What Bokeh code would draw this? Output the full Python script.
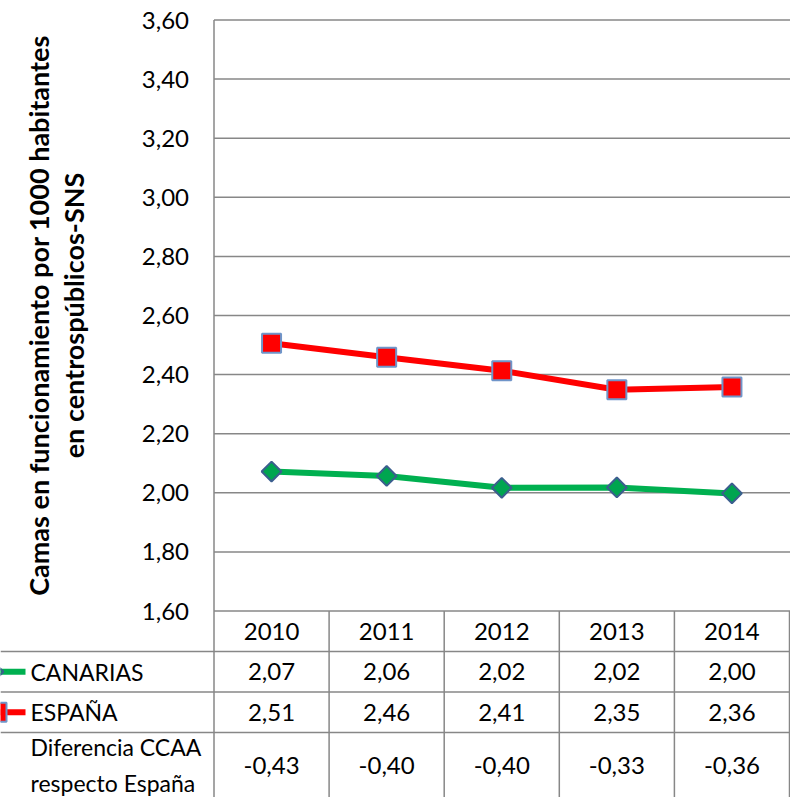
import math
from bokeh.plotting import figure
from bokeh.models import Range1d
from bokeh.core.properties import value
from bokeh.embed import file_html
from bokeh.resources import INLINE

years = ["2010", "2011", "2012", "2013", "2014"]
canarias = [2.072, 2.057, 2.017, 2.018, 1.998]
espana = [2.506, 2.459, 2.413, 2.349, 2.358]
y_ticks = [1.6, 1.8, 2.0, 2.2, 2.4, 2.6, 2.8, 3.0, 3.2, 3.4, 3.6]
series_names = ["CANARIAS", "ESPAÑA", "Diferencia CCAA\nrespecto España"]
y_title = ["Camas en funcionamiento por 1000 habitantes", "en centrospúblicos-SNS"]

FONT = "Lato"
GRID = "#878787"
RED, GREEN = "#ff0000", "#00b050"
W, H = 790, 797          # canvas size
LEFT = 213.5             # plot-area left edge (px)
PX = (W - 1 - LEFT) / 5  # px per category
PY = 295.5               # px per y unit
TOP = 19.5               # px of the top tick
ROW = 40.5               # table row height (px)
xs = list(range(len(years)))
ymin, ymax = min(y_ticks), max(y_ticks)

x_start = -0.5 - LEFT / PX
x_end = x_start + W / PX
y_end = ymax + TOP / PY
y_start = y_end - H / PY
sx = lambda px: x_start + px / PX
rowy = lambda k: ymin - k * ROW / PY

p = figure(width=W, height=H, x_range=Range1d(x_start, x_end),
           y_range=Range1d(y_start, y_end), output_backend="svg",
           toolbar_location=None, x_axis_location=None, y_axis_location=None,
           min_border=0, outline_line_color=None)
p.grid.visible = False

n = len(y_ticks)
p.segment(x0=[-0.5] * n, y0=y_ticks, x1=[x_end] * n, y1=y_ticks,
          line_color=GRID, line_width=1.5)
p.segment(x0=[-0.5], y0=[ymax], x1=[-0.5], y1=[y_start], line_color=GRID, line_width=1.5)
vx = [i + 0.5 for i in xs]
p.segment(x0=vx, y0=[ymin] * len(vx), x1=vx, y1=[y_start] * len(vx),
          line_color=GRID, line_width=1.5)
ry = [rowy(1), rowy(2), rowy(3)]
p.segment(x0=[x_start] * 3, y0=ry, x1=[x_end] * 3, y1=ry,
          line_color=GRID, line_width=1.5)

# tick labels
p.text(x=[-0.5 - 25 / PX] * n, y=y_ticks,
       text=[f"{t:.2f}".replace(".", ",") for t in y_ticks],
       text_align="right", text_baseline="middle", text_font=value(FONT),
       text_font_size="24px", text_color="black")
# axis title
p.text(x=[sx(38), sx(73)], y=[(ymin + ymax) / 2] * 2, text=y_title,
       angle=math.pi / 2, text_align="center", text_baseline="middle",
       text_font=value(FONT), text_font_size="27px", text_font_style="bold",
       text_color="black")

# series
p.line(xs, espana, line_color=RED, line_width=6)
p.scatter(xs, espana, marker="square", size=19, fill_color=RED,
          line_color="#6f95c9", line_width=2)
p.line(xs, canarias, line_color=GREEN, line_width=6)
p.scatter(xs, canarias, marker="square", angle=math.pi / 4, size=14,
          fill_color="#00a550", line_color="#3b5e8e", line_width=2)

# table
fmt = lambda v: f"{v:.2f}".replace(".", ",")
diff = [c - e for c, e in zip(canarias, espana)]
rows_text = [years, [fmt(v) for v in canarias], [fmt(v) for v in espana],
             [fmt(v) for v in diff]]
row_centers = [rowy(0.5), rowy(1.5), rowy(2.5), (rowy(3) + y_start) / 2]
for yc, txt in zip(row_centers, rows_text):
    p.text(x=xs, y=[yc] * len(xs), text=txt, text_align="center",
           text_baseline="middle", text_font=value(FONT),
           text_font_size="24px", text_color="black")

p.text(x=[sx(30)] * 3, y=row_centers[1:], text=series_names, text_align="left",
       text_baseline="middle", text_font=value(FONT), text_font_size="23px",
       text_color="black", text_line_height=1.3)

# legend keys (line + partially visible marker at the left edge)
p.segment(x0=[x_start] * 2, y0=row_centers[1:3], x1=[sx(25)] * 2, y1=row_centers[1:3],
          line_color=[GREEN, RED], line_width=6)
p.scatter([sx(-7)], [row_centers[1]], marker="square", angle=math.pi / 4, size=14,
          fill_color="#00a550", line_color="#3b5e8e", line_width=2)
p.scatter([sx(-3.5)], [row_centers[2]], marker="square", size=19, fill_color=RED,
          line_color="#6f95c9", line_width=2)

open("out.html", "w").write(file_html(p, INLINE))
